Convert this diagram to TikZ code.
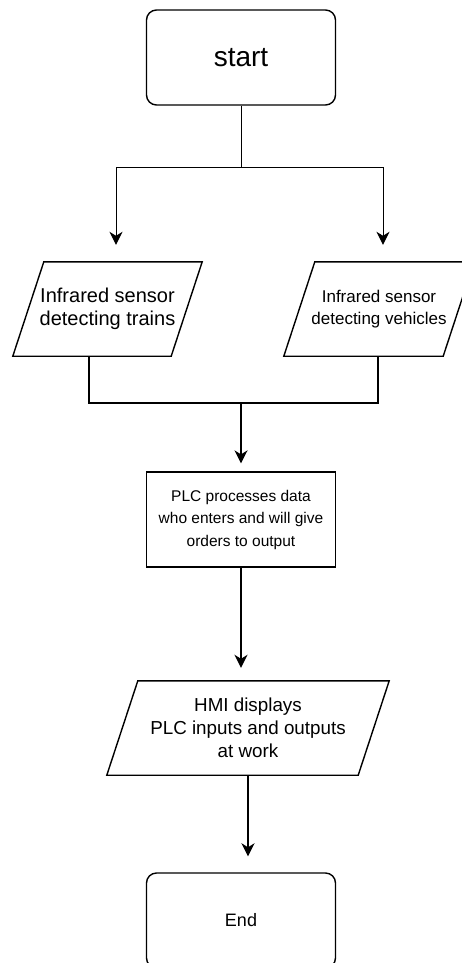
\documentclass[tikz,border=0pt]{standalone}
\usepackage{fontspec}
\setmainfont{Liberation Sans}
\usetikzlibrary{arrows.meta,calc}
\begin{document}
\begin{tikzpicture}[x=1pt,y=-1pt,
  box/.style={draw, line width=1.4pt, minimum width=189pt, minimum height=95pt, inner sep=0pt, align=center},
  term/.style={box, rounded corners=10pt},
  proc/.style={box, line width=1.2pt},
  io/.style={minimum height=94pt, inner sep=0pt, align=center},
  paraline/.style={line width=1.4pt, line join=miter},
  conn/.style={line width=1.8pt},
  thinconn/.style={line width=1pt},
  arr/.style={-{Stealth[length=13pt,width=13pt,inset=4pt]}},
]
\useasboundingbox (0,0) rectangle (461,963);

% nodes
\node[term, font=\fontsize{28}{34}\selectfont] (start) at (241,57.5) {start};
\node[io, minimum width=189pt, font=\fontsize{20}{23}\selectfont] (lpara) at (107.5,309)
  {Infrared sensor\\ detecting trains};
\node[io, minimum width=190pt, font=\fontsize{17}{21.5}\selectfont] (rpara) at (379,309)
  {Infrared sensor\\ detecting vehicles};
\node[proc, font=\fontsize{15.5}{22.5}\selectfont] (plc) at (241,519.5)
  {PLC processes data\\ who enters and will give\\ orders to output};
\node[io, minimum width=282pt, font=\fontsize{18.8}{23}\selectfont] (hmi) at (248,728)
  {HMI displays\\ PLC inputs and outputs\\ at work};
\node[term, font=\fontsize{18}{22}\selectfont] (end) at (241,920.5) {End};

% parallelogram outlines
\draw[paraline] ($(lpara.north west)+(31,0)$) -- (lpara.north east) -- ($(lpara.south east)-(31,0)$) -- (lpara.south west) -- cycle;
\draw[paraline] ($(rpara.north west)+(31,0)$) -- (rpara.north east) -- ($(rpara.south east)-(31,0)$) -- (rpara.south west) -- cycle;
\draw[paraline] ($(hmi.north west)+(31,0)$) -- (hmi.north east) -- ($(hmi.south east)-(31,0)$) -- (hmi.south west) -- cycle;

% split from start
\coordinate (split) at (241,167);
\coordinate (la) at (116,167);
\coordinate (ra) at (383,167);
\draw[thinconn] (start.south) -- (split);
\draw[thinconn] (la) -- (ra);
\draw[thinconn, arr, shorten >=17pt] (la) -- (la |- lpara.north);
\draw[thinconn, arr, shorten >=17pt] (ra) -- (ra |- rpara.north);

% join to PLC
\coordinate (lb) at (89,403);
\coordinate (rb) at (378,403);
\coordinate (join) at (241,403);
\draw[conn] (lb |- lpara.south) -- (lb) -- (rb) -- (rb |- rpara.south);
\draw[conn, arr, shorten >=8pt] (join) -- (plc.north);

% PLC to HMI to End
\draw[conn, arr, shorten >=13pt] (plc.south) -- (plc.south |- hmi.north);
\draw[conn, arr, shorten >=16pt] (hmi.south) -- (hmi.south |- end.north);
\end{tikzpicture}
\end{document}
